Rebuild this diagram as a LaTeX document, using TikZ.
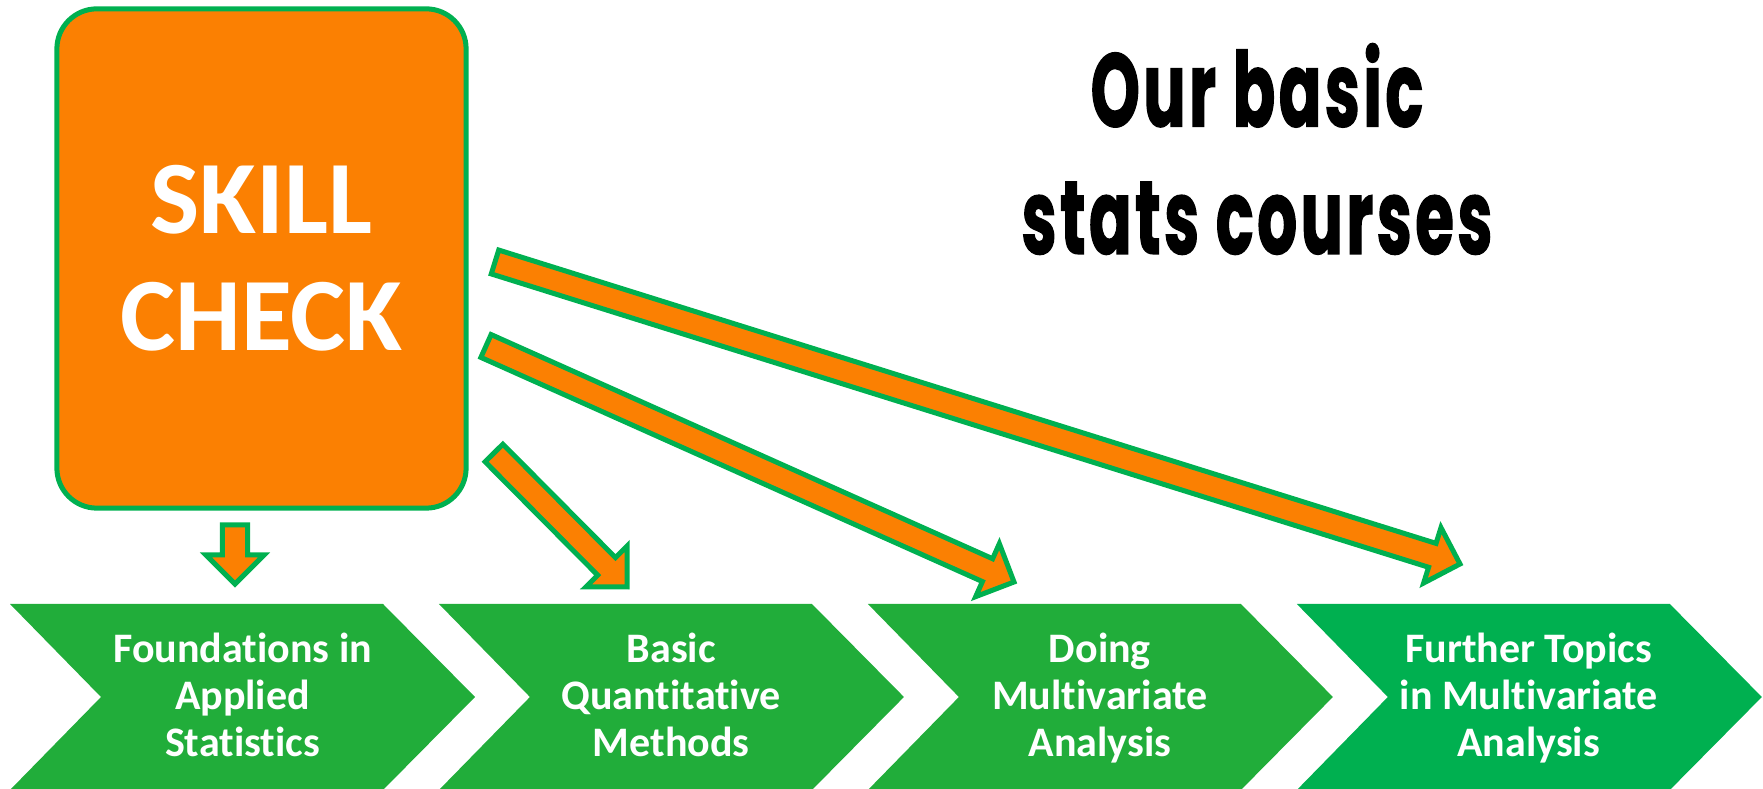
\documentclass[tikz,border=0pt]{standalone}
\usepackage{fontspec}
\setmainfont{Carlito}[Ligatures=NoCommon]
\newfontfamily\titlefont{Poppins}[FakeStretch=0.6, FakeBold=1.2, LetterSpace=3.5]
\usetikzlibrary{calc}
\definecolor{skillorange}{RGB}{251,128,2}
\definecolor{edgegreen}{RGB}{0,176,80}
\definecolor{coursegreen}{RGB}{33,173,58}
\definecolor{lastgreen}{RGB}{0,176,80}

\begin{document}
\begin{tikzpicture}[
    x=0.01cm, y=-0.01cm,
    skill/.style={rectangle, draw=edgegreen, fill=skillorange, line width=0.05cm, rounded corners=0.4cm, minimum width=4.09cm, minimum height=4.99cm, align=center, text=white, font=\bfseries\fontsize{29.6}{33.3}\selectfont},
    course/.style={align=center, text=white, text depth=0pt, font=\bfseries\fontsize{11.95}{13.4}\selectfont},
    title/.style={align=center, font=\titlefont\bfseries\fontsize{29.6}{36.2}\selectfont},
    blockarrow/.style={draw=edgegreen, fill=skillorange, line width=0.05cm,
        to path={let \p1=($(\tikztotarget)!0.29cm!(\tikztostart)$) in
            ($(\tikztostart)!0.125cm!90:(\tikztotarget)$)
            -- ($(\p1)!0.125cm!-90:(\tikztostart)$)
            -- ($(\p1)!0.29cm!-90:(\tikztostart)$)
            -- (\tikztotarget)
            -- ($(\p1)!0.29cm!90:(\tikztostart)$)
            -- ($(\p1)!0.125cm!90:(\tikztostart)$)
            -- ($(\tikztostart)!0.125cm!-90:(\tikztotarget)$)
            -- cycle}}
]
\useasboundingbox (0,0) rectangle (1763,789);

% Courses

\foreach \i/\col/\txt in {1/coursegreen/{Foundations in\\Applied\\Statistics},
                          2/coursegreen/{Basic\\Quantitative\\Methods},
                          3/coursegreen/{Doing\\Multivariate\\Analysis},
                          4/lastgreen/{Further Topics\\in Multivariate\\Analysis}} {
    \fill[\col, xshift=(\i-1)*4.287cm] (10,604) -- (383,604) -- (475,697) -- (383,790) -- (10,790) -- (101,697) -- cycle;
    \node[course] (course-\i) at (242.5+428.7*\i-428.7, 695) {\txt};
}

\node[skill] (skill) at (261.5, 258.5) {SKILL\\CHECK};

\node[title] (title) at (1257, 149) {Our basic\\stats courses};

% Arrows

\coordinate (from-1) at (235, 525);
\coordinate (to-1) at (235, 584);
\coordinate (from-2) at (494, 453);
\coordinate (to-2) at (627, 587);
\coordinate (from-3) at (486, 346);
\coordinate (to-3) at (1014, 582);
\coordinate (from-4) at (495, 262);
\coordinate (to-4) at (1460, 564);

\foreach \j in {1,...,4}
    \path (from-\j) edge[blockarrow] (to-\j);

\end{tikzpicture}
\end{document}
